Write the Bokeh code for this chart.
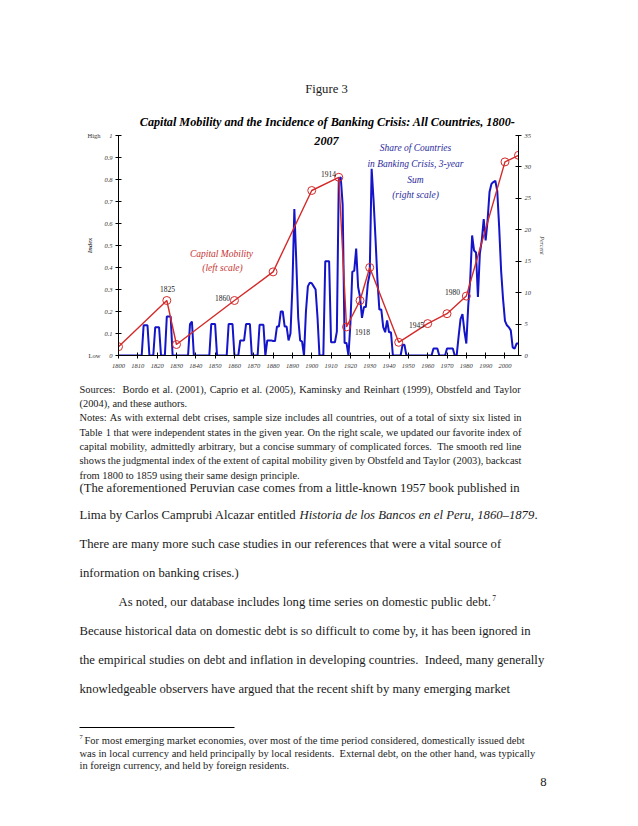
from math import pi
from bokeh.plotting import figure
from bokeh.layouts import column
from bokeh.models import Range1d, LinearAxis, FixedTicker, Label, PrintfTickFormatter
from bokeh.core.properties import value
from bokeh.embed import file_html
from bokeh.resources import INLINE

# ---------------- data ----------------
years = list(range(1800, 2008))
crisis_share = [
    0, 0, 0, 0, 0, 0, 0, 0, 0, 0,                      # 1800s
    0, 0, 0, 4.8, 4.8, 4.8, 0, 0, 0, 4.5,              # 1810s
    4.5, 4.5, 0, 0, 0, 6.2, 6.2, 6.2, 0, 0,            # 1820s
    0, 0, 0, 0, 0, 0, 0, 5.0, 5.4, 0,                  # 1830s
    0, 0, 0, 0, 0, 0, 0, 0, 5.0, 5.0,                  # 1840s
    5.0, 0, 0, 0, 0, 0, 0, 5.0, 5.0, 5.0,              # 1850s
    0, 0, 0, 2.4, 2.4, 2.4, 5.0, 5.0, 5.0, 0,          # 1860s
    0, 0, 0, 4.9, 4.9, 4.9, 0, 2.4, 2.4, 2.4,          # 1870s
    2.3, 2.3, 4.6, 4.6, 7.0, 7.0, 4.6, 4.6, 2.4, 3.5,  # 1880s
    11.0, 23.3, 15.0, 6.0, 2.4, 2.2, 0, 7.0, 11.0, 11.6,  # 1890s
    11.5, 11.0, 10.5, 6.0, 0, 0, 0, 15.0, 15.0, 15.0,  # 1900s
    2.1, 2.1, 2.1, 3.8, 28.0, 28.4, 24.0, 2.0, 2.0, 0,  # 1910s
    5.0, 13.3, 13.5, 17.0, 10.9, 9.3, 6.0, 7.7, 7.7, 11.4,  # 1920s
    13.0, 29.7, 24.7, 18.6, 12.0, 7.3, 7.3, 4.5, 3.7, 5.6,  # 1930s
    3.7, 3.7, 0, 0, 0, 0, 0, 1.7, 1.7, 0,              # 1940s
    0, 0, 0, 0, 0, 0, 0, 0, 0, 0,                      # 1950s
    0, 0, 0, 1.1, 1.1, 1.1, 0, 0, 0, 0,                # 1960s
    1.1, 1.1, 1.1, 1.1, 0, 0, 3.0, 5.8, 6.6, 3.9,      # 1970s
    1.9, 8.0, 12.0, 19.1, 16.7, 16.4, 9.3, 16.2, 18.3, 21.7,  # 1980s
    18.3, 21.5, 26.0, 27.3, 27.6, 27.8, 26.2, 20.4, 13.5, 9.0,  # 1990s
    5.5, 4.8, 4.5, 4.0, 1.3, 1.1, 1.9, 1.9,            # 2000-2007
]
mob_years = [1800, 1825, 1830, 1860, 1880, 1900, 1914, 1918, 1925, 1930,
             1945, 1960, 1970, 1980, 2000, 2007]
mob_index = [0.04, 0.25, 0.05, 0.25, 0.38, 0.75, 0.81, 0.13, 0.25, 0.40,
             0.06, 0.145, 0.19, 0.27, 0.88, 0.91]
x_ticks = list(range(1800, 2001, 10))
left_ticks = [0, 0.1, 0.2, 0.3, 0.4, 0.5, 0.6, 0.7, 0.8, 0.9, 1]
right_ticks = [0, 5, 10, 15, 20, 25, 30, 35]
year_labels = ["1825", "1860", "1914", "1918", "1945", "1980"]

SERIF = "Liberation Serif"
INK = "#1a1a1a"
RED = "#d42a2a"
BLUE = "#1414c8"

PW = 630                       # page width used
FL, FR, FT, FB = 118, 518, 135, 355   # chart frame in page pixels
C0, C1 = 130, 382              # chart canvas vertical extent in page pixels
B1 = 818                       # bottom of page area

# Times-compatible advance widths (per 1000 em), used to justify note lines
TW = dict(zip(" !\"#$%&'()*+,-./", [250, 333, 408, 500, 500, 833, 778, 333, 333, 333, 500, 564, 250, 333, 250, 278]))
TW.update({d: 500 for d in "0123456789"})
TW.update(dict(zip(":;<=>?@", [278, 278, 564, 564, 564, 444, 921])))
TW.update(dict(zip("ABCDEFGHIJKLMNOPQRSTUVWXYZ",
                   [722, 667, 667, 722, 611, 556, 722, 722, 333, 389, 722, 611, 889, 722, 722,
                    556, 722, 667, 556, 611, 722, 722, 944, 722, 722, 611])))
TW.update(dict(zip("abcdefghijklmnopqrstuvwxyz",
                   [444, 500, 444, 500, 444, 333, 500, 500, 278, 278, 500, 278, 778, 500, 500,
                    500, 500, 333, 389, 278, 500, 500, 722, 500, 500, 444])))
TW["\u00a0"] = 250


def no_align(f):
    try:
        f.frame_align = False
    except Exception:
        pass


def page_fig(y0, y1):
    f = figure(width=PW, height=y1 - y0, output_backend="svg", toolbar_location=None,
               x_range=Range1d(0, PW), y_range=Range1d(y1, y0),
               x_axis_type=None, y_axis_type=None, min_border=0, title=None)
    f.outline_line_color = None
    f.background_fill_color = "white"
    f.border_fill_color = "white"
    no_align(f)
    return f


def ptext(f, x, y, text, size, style="normal", color=INK, align="left"):
    xs = x if isinstance(x, list) else [x]
    ts = text if isinstance(text, list) else [text]
    f.text(x=xs, y=[y] * len(xs), text=ts, text_font=value(SERIF),
           text_font_size=value(f"{size}px"), text_font_style=value(style),
           text_color=color, text_align=value(align), text_baseline=value("middle"))


def justified(f, x0, x1, y, line, size):
    words = line.split(" ")
    widths = [sum(TW.get(c, 500) for c in w) * size / 1000 for w in words]
    gap = (x1 - x0 - sum(widths)) / (len(words) - 1)
    xs, x = [], x0
    for wd in widths:
        xs.append(x)
        x += wd + gap
    ptext(f, xs, y, words, size)


# ---------------- top of page ----------------
top = page_fig(0, C0)
ptext(top, 326, 88, "Figure 3", 12.7, align="center")
ptext(top, 327, 121, "Capital Mobility and the Incidence of Banking Crisis: All Countries, 1800-",
      12.2, style="bold italic", color="black", align="center")

# ---------------- chart ----------------
p = figure(width=PW, height=C1 - C0, output_backend="svg", toolbar_location=None, title=None,
           x_range=Range1d(1800, 2007), y_range=Range1d(0, 1),
           min_border_left=FL, min_border_right=PW - FR,
           min_border_top=FT - C0, min_border_bottom=C1 - FB)
no_align(p)
p.outline_line_color = None
p.xgrid.visible = False
p.ygrid.visible = False
p.background_fill_color = "white"
p.border_fill_color = "white"
p.extra_y_ranges = {"pct": Range1d(0, 35)}


def style_axis(ax, standoff):
    ax.major_label_text_font = SERIF
    ax.major_label_text_font_style = "italic"
    ax.major_label_text_font_size = "6.5px"
    ax.major_label_text_color = "#333333"
    ax.major_tick_in = 3
    ax.major_tick_out = 3
    ax.minor_tick_line_color = None
    ax.major_label_standoff = standoff
    ax.axis_line_color = "black"
    ax.major_tick_line_color = "black"


xa = p.xaxis[0]
xa.ticker = FixedTicker(ticks=x_ticks)
style_axis(xa, 5)

ya = p.yaxis[0]
ya.ticker = FixedTicker(ticks=left_ticks)
ya.formatter = PrintfTickFormatter(format="%g")
style_axis(ya, 3)

# outer left axis carrying the High / Low words and the "Index" title
hl = LinearAxis(ticker=FixedTicker(ticks=[0, 1]), major_label_overrides={0: "Low", 1: "High"})
hl.axis_line_color = None
hl.major_tick_line_color = None
hl.minor_tick_line_color = None
hl.major_tick_in = 0
hl.major_tick_out = 0
hl.major_label_standoff = 1
hl.major_label_text_font = SERIF
hl.major_label_text_font_size = "6.5px"
hl.major_label_text_color = "#333333"
hl.axis_label = "Index"
hl.axis_label_text_font = SERIF
hl.axis_label_text_font_style = "bold italic"
hl.axis_label_text_font_size = "6.5px"
hl.axis_label_standoff = -8
p.add_layout(hl, "left")

ra = LinearAxis(y_range_name="pct", ticker=FixedTicker(ticks=right_ticks))
style_axis(ra, 3)
ra.axis_label = "Percent"
ra.axis_label_text_font = SERIF
ra.axis_label_text_font_style = "italic"
ra.axis_label_text_font_size = "6px"
ra.axis_label_standoff = 5
p.add_layout(ra, "right")

# series
p.line(years, crisis_share, y_range_name="pct", line_color=BLUE, line_width=2)
p.line(mob_years, mob_index, line_color=RED, line_width=1.4)
p.scatter(mob_years, mob_index, marker="circle", size=8, fill_color=None,
          line_color=RED, line_width=1)


def X(px):
    return 1800 + (px - FL) * 207 / (FR - FL)


def Y(py):
    return (FB - py) / (FB - FT)


def lab(px, py, text, size, style="normal", color=INK, align="center"):
    p.add_layout(Label(x=X(px), y=Y(py), text=text, text_font=SERIF,
                       text_font_size=f"{size}px", text_font_style=style,
                       text_color=color, text_align=align, text_baseline="middle"))


lab(326, 140, "2007", 12.2, style="bold italic", color="black")
for (px, py), t in zip([(167, 288), (222, 297), (328, 173), (362, 331), (416, 324), (452, 291)],
                       year_labels):
    lab(px, py, t, 7.5, color="#222222")
lab(221, 253, "Capital Mobility", 9.5, style="italic", color="#c83232")
lab(222, 267, "(left scale)", 9.5, style="italic", color="#c83232")
for py, t in zip([147, 163, 179, 194],
                 ["Share of Countries", "in Banking Crisis, 3-year", "Sum", "(right scale)"]):
    lab(415, py, t, 9.5, style="italic", color="#2a2a9c")

# ---------------- bottom of page ----------------
bot = page_fig(C1, B1)
NOTE = 10.4
RIGHT = 521
ptext(bot, 79, 389, "Sources:", NOTE)
justified(bot, 122, RIGHT, 389,
          "Bordo et al. (2001), Caprio et al. (2005), Kaminsky and Reinhart (1999), Obstfeld and Taylor", NOTE)
ptext(bot, 79, 403, "(2004), and these authors.", NOTE)
note_lines = [
    "Notes: As with external debt crises, sample size includes all countries, out of a total of sixty six listed in",
    "Table 1 that were independent states in the given year. On the right scale, we updated our favorite index of",
    "capital mobility, admittedly arbitrary, but a concise summary of complicated forces.\u00a0 The smooth red line",
    "shows the judgmental index of the extent of capital mobility given by Obstfeld and Taylor (2003), backcast",
]
for py, t in zip([417, 432, 446, 460], note_lines):
    justified(bot, 79, RIGHT, py, t, NOTE)
ptext(bot, 79, 475, "from 1800 to 1859 using their same design principle.", NOTE)

BODY = 12.7
ptext(bot, 79, 487, "(The aforementioned Peruvian case comes from a little-known 1957 book published in", BODY)
ptext(bot, 79, 514, "Lima by Carlos Camprubi Alcazar entitled ", BODY)
ptext(bot, 79 + 17.331 * BODY, 514, "Historia de los Bancos en el Peru, 1860\u20131879", BODY, style="italic")
ptext(bot, 79 + (17.331 + 18.499) * BODY, 514, ".", BODY)
ptext(bot, 79, 543, "There are many more such case studies in our references that were a vital source of", BODY)
ptext(bot, 79, 572, "information on banking crises.)", BODY)
ptext(bot, 118, 601, "As noted, our database includes long time series on domestic public debt.", BODY)
ptext(bot, 118 + 29.358 * BODY + 1, 597, "7", 7.5)
ptext(bot, 79, 630, "Because historical data on domestic debt is so difficult to come by, it has been ignored in", BODY)
ptext(bot, 79, 659, "the empirical studies on debt and inflation in developing countries.\u00a0 Indeed, many generally", BODY)
ptext(bot, 79, 688, "knowledgeable observers have argued that the recent shift by many emerging market", BODY)

FOOT = 10.5
bot.segment(x0=[79], y0=[727], x1=[234], y1=[727], line_color="black", line_width=1)
ptext(bot, 79, 736, "7", 6.5)
ptext(bot, 84, 740, "For most emerging market economies, over most of the time period considered, domestically issued debt", FOOT)
ptext(bot, 79, 753, "was in local currency and held principally by local residents.\u00a0 External debt, on the other hand, was typically", FOOT)
ptext(bot, 79, 765, "in foreign currency, and held by foreign residents.", FOOT)
ptext(bot, 543, 781, "8", 12.7, align="center")

layout = column(top, p, bot, spacing=0)
open("out.html", "w").write(file_html(layout, INLINE))
